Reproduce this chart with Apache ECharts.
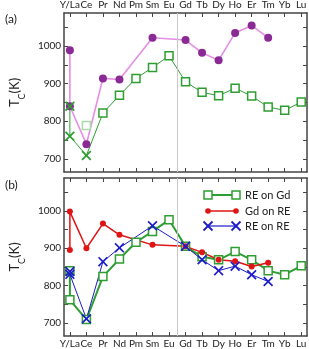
<!DOCTYPE html>
<html><head><meta charset="utf-8">
<script src="https://cdn.jsdelivr.net/npm/echarts@6/dist/echarts.min.js"></script>
<style>html,body{margin:0;padding:0;background:#fff}#c{width:309px;height:349px}</style>
</head><body><div id="c"></div>
<script>
const categories = ['Y/La','Ce','Pr','Nd','Pm','Sm','Eu','Gd','Tb','Dy','Ho','Er','Tm','Yb','Lu'];
const yTickLabels = [700, 800, 900, 1000];
const yMinorTicks = [700, 750, 800, 850, 900, 950, 1000, 1050];
// panel (a): [category index, Tc]
const aPurple = [[0,989],[0,840],[1,739],[2,914],[3,911],[5,1022],[7,1016],[8,982],[9,962],[10,1035],[11,1055],[12,1022]];
const aGreen = [[0,840],[0,760],[1,709],[2,822],[3,869],[4,914],[5,943],[6,974],[7,905],[8,877],[9,868],[10,888],[11,867],[12,838],[13,829],[14,851]];
const aGreenCrossCount = 3; // first three points drawn as crosses
const aGreenLight = [[1,789]];
// panel (b)
const bREonGd = [[0,840],[0,762],[1,709],[2,824],[3,871],[4,916],[5,945],[6,976],[7,905],[8,877],[9,869],[10,891],[11,869],[12,840],[13,829],[14,853]];
const bGdOnRE = [[0,895],[0,998],[1,900],[2,966],[3,936],[5,909],[7,905],[8,889],[9,869],[10,865],[11,851],[12,861]];
const bREonRE = [[0,838],[0,830],[1,711],[2,864],[3,901],[5,960],[7,905],[8,869],[9,840],[10,852],[11,829],[12,811]];
const legendNames = ['RE on Gd','Gd on RE','RE on RE'];
const divider = 6.5;

const GREEN = '#2e9e32', PINK = '#e48ee4', PURPLE = '#8a2a94', RED = '#e01414', BLUE = '#1c1cc8', FRAME = '#444';
const CROSS = 'path://M0,1.2L1.2,0L5,3.8L8.8,0L10,1.2L6.2,5L10,8.8L8.8,10L5,6.2L1.2,10L0,8.8L3.8,5Z';
const FONT = 'Lato';
const YMIN = 665, YMAX = 1088, XMIN = -0.35, XMAX = 14.35;
const catIdx = categories.map((c,i)=>i);
const evenIdx = catIdx.filter(i=>i%2===0), oddIdx = catIdx.filter(i=>i%2===1);

function xAxis(grid, pos, labelIdx, frame) {
  return { type:'value', gridIndex:grid, position:pos, offset:0, min:XMIN, max:XMAX,
    axisLine:{show:frame, onZero:false, lineStyle:{color:FRAME, width:1.5}},
    axisTick:{show:frame, inside:true, length:4, customValues:catIdx, lineStyle:{color:FRAME}},
    axisLabel:{show:!!labelIdx, customValues:labelIdx || catIdx, showMinLabel:true, showMaxLabel:true, hideOverlap:false,
      formatter:v=>categories[Math.round(v)], color:'#222', fontFamily:FONT, fontSize:10, margin:3},
    splitLine:{show:false} };
}
function yAxis(grid, pos, labels) {
  return { type:'value', gridIndex:grid, position:pos, min:YMIN, max:YMAX,
    name: labels ? '{t|T}{s|C}{t|(K)}' : '', nameLocation:'middle', nameRotate:90, nameGap:24,
    nameTextStyle:{rich:{t:{fontFamily:FONT, fontSize:13, color:'#222'}, s:{fontFamily:FONT, fontSize:9, color:'#222', verticalAlign:'bottom', padding:[0,0,-6,0]}}},
    axisLine:{show:true, onZero:false, lineStyle:{color:FRAME, width:1.5}},
    axisTick:{show:true, inside:true, length:4, customValues:yMinorTicks, lineStyle:{color:FRAME}},
    axisLabel:{show:labels, customValues:yTickLabels, formatter:v=>String(v), color:'#222', fontFamily:FONT, fontSize:10, margin:3},
    splitLine:{show:false} };
}
const vline = {silent:true, symbol:'none', label:{show:false}, lineStyle:{color:'#c8c8c8', type:'solid', width:1}, data:[{xAxis:divider}]};

const chart = echarts.init(document.getElementById('c'), null, {renderer:'canvas'});
const sq = (c) => ({symbol:'rect', symbolSize:8, itemStyle:{color:'#fff', borderColor:c, borderWidth:1.5}});

const legendRows = [
  {y:195, name:legendNames[0], color:GREEN, w:2, sym:'sq'},
  {y:211, name:legendNames[1], color:RED, w:1.5, sym:'dot'},
  {y:226, name:legendNames[2], color:BLUE, w:1.2, sym:'x'}
];
const graphics = [
  {type:'text', left:5, top:13, style:{text:'(a)', font:'12px '+FONT, fill:'#222'}},
  {type:'text', left:5, top:179, style:{text:'(b)', font:'12px '+FONT, fill:'#222'}}
];
legendRows.forEach(r => {
  graphics.push({type:'line', shape:{x1:208, y1:r.y, x2:236, y2:r.y}, style:{stroke:r.color, lineWidth:r.w}});
  [208,236].forEach(x => {
    if (r.sym==='sq') graphics.push({type:'rect', shape:{x:x-4, y:r.y-4, width:8, height:8}, style:{fill:'#fff', stroke:r.color, lineWidth:1.5}});
    else if (r.sym==='dot') graphics.push({type:'circle', shape:{cx:x, cy:r.y, r:2.8}, style:{fill:r.color}});
    else { graphics.push({type:'line', shape:{x1:x-4.5,y1:r.y-4.5,x2:x+4.5,y2:r.y+4.5}, style:{stroke:r.color, lineWidth:1.8}});
           graphics.push({type:'line', shape:{x1:x-4.5,y1:r.y+4.5,x2:x+4.5,y2:r.y-4.5}, style:{stroke:r.color, lineWidth:1.8}}); }
  });
  graphics.push({type:'text', x:245, y:r.y, style:{text:r.name, font:'11px '+FONT, fill:'#222', verticalAlign:'middle'}});
});

chart.setOption({
  animation:false,
  backgroundColor:'#fff',
  grid:[
    {left:36, top:13, width:271, height:159},
    {left:36, top:178, width:271, height:158.5}
  ],
  xAxis:[
    xAxis(0,'top',evenIdx,true), xAxis(0,'top',oddIdx,false), xAxis(0,'bottom',null,true),
    xAxis(1,'top',null,true), xAxis(1,'bottom',evenIdx,true), xAxis(1,'bottom',oddIdx,false)
  ],
  yAxis:[yAxis(0,'left',true), yAxis(0,'right',false), yAxis(1,'left',true), yAxis(1,'right',false)],
  series:[
    {type:'line', xAxisIndex:0, yAxisIndex:0, data:[], markLine:vline},
    {type:'line', xAxisIndex:4, yAxisIndex:2, data:[], markLine:vline},
    {type:'line', xAxisIndex:0, yAxisIndex:0, data:aPurple, symbol:'circle', symbolSize:8,
      itemStyle:{color:PURPLE}, lineStyle:{color:PINK, width:1.6}},
    {type:'line', xAxisIndex:0, yAxisIndex:0, data:aGreenLight, symbol:'rect', symbolSize:8,
      itemStyle:{color:'#fff', borderColor:'#a6dca6', borderWidth:1.5}, lineStyle:{width:0}},
    {type:'line', xAxisIndex:0, yAxisIndex:0,
      data:aGreen.map((p,i)=> i<aGreenCrossCount ? {value:p, symbol:CROSS, symbolSize:10, itemStyle:{color:GREEN, borderWidth:0}} : {value:p}),
      symbol:'rect', symbolSize:8, itemStyle:{color:'#fff', borderColor:GREEN, borderWidth:1.5}, lineStyle:{color:GREEN, width:1}},
    {type:'line', name:legendNames[0], xAxisIndex:4, yAxisIndex:2, data:bREonGd, ...sq(GREEN), lineStyle:{color:GREEN, width:2}},
    {type:'line', name:legendNames[1], xAxisIndex:4, yAxisIndex:2, data:bGdOnRE, symbol:'circle', symbolSize:6,
      itemStyle:{color:RED}, lineStyle:{color:RED, width:1.5}},
    {type:'line', name:legendNames[2], xAxisIndex:4, yAxisIndex:2, data:bREonRE, symbol:CROSS, symbolSize:10,
      itemStyle:{color:BLUE}, lineStyle:{color:BLUE, width:1}}
  ],
  graphic:graphics
});
</script></body></html>
